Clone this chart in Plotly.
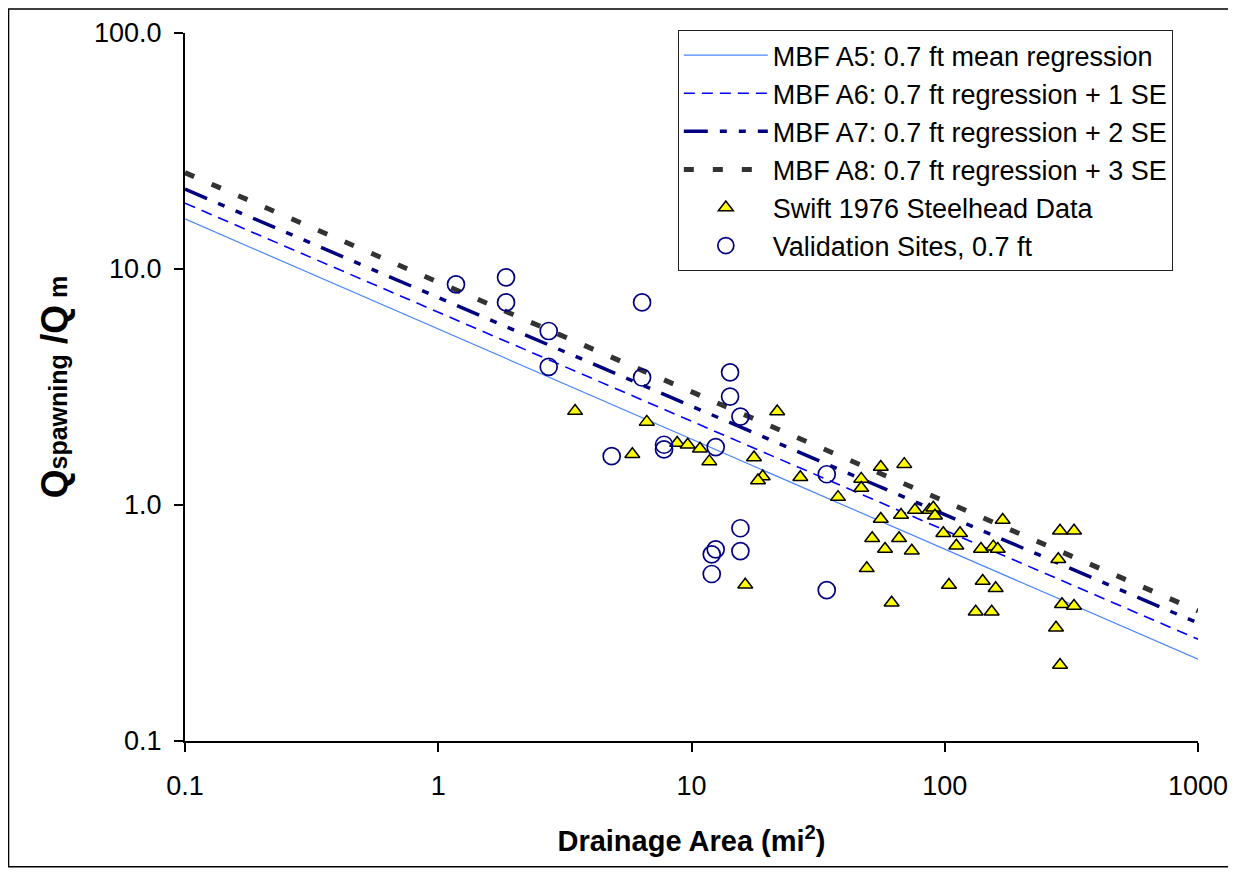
import plotly.graph_objects as go

# ---------------- data ----------------
line_x = [0.1, 1000]
a5_y = [16.3, 0.222]
a6_y = [19.0, 0.270]
a7_y = [21.8, 0.316]
a8_y = [25.6, 0.356]

swift_area = [3.47, 6.66, 5.84, 8.78, 9.66, 10.8, 11.76, 21.8, 17.65, 19.1,
              18.3, 26.9, 37.9, 16.3, 46.8, 46.8, 55.9, 69.2, 55.9, 67.2,
              76.3, 86.9, 90.1, 91.5, 51.7, 66.0, 58.1, 74.1, 49.2, 61.7,
              98.7, 114.9, 111.1, 103.9, 139.0, 155.5, 161.9, 169.3, 141.2, 158.9,
              132.5, 153.2, 285.2, 323.9, 280.8, 290.4, 323.9, 275.0, 285.2]
swift_q = [2.50, 2.25, 1.64, 1.83, 1.80, 1.73, 1.53, 2.49, 1.59, 1.32,
           1.27, 1.31, 1.08, 0.459, 1.29, 1.18, 1.45, 1.49, 0.872, 0.907,
           0.952, 0.952, 0.974, 0.901, 0.723, 0.723, 0.651, 0.640, 0.539, 0.385,
           0.759, 0.759, 0.672, 0.458, 0.651, 0.666, 0.651, 0.864, 0.476, 0.444,
           0.353, 0.353, 0.778, 0.778, 0.589, 0.380, 0.373, 0.302, 0.210]

val_area = [1.175, 1.852, 1.852, 2.73, 2.73, 6.38, 6.38, 14.2, 14.2, 15.6,
            4.84, 7.79, 7.79, 12.46, 34.2, 15.6, 12.46, 12.02, 15.6, 12.02, 34.2]
val_q = [8.61, 9.22, 7.22, 5.46, 3.85, 7.22, 3.47, 3.65, 2.88, 2.37,
         1.61, 1.80, 1.72, 1.76, 1.35, 0.797, 0.649, 0.618, 0.638, 0.510, 0.436]

x_tickvals = [0.1, 1, 10, 100, 1000]
x_ticktext = ["0.1", "1", "10", "100", "1000"]
y_tickvals = [0.1, 1, 10, 100]
y_ticktext = ["0.1", "1.0", "10.0", "100.0"]

names = ["MBF A5: 0.7 ft mean regression",
         "MBF A6: 0.7 ft regression + 1 SE",
         "MBF A7: 0.7 ft regression + 2 SE",
         "MBF A8: 0.7 ft regression + 3 SE",
         "Swift 1976 Steelhead Data",
         "Validation Sites, 0.7 ft"]

FONT = "Liberation Sans, Arial, sans-serif"

fig = go.Figure()

fig.add_trace(go.Scatter(x=line_x, y=a5_y, mode="lines", name=names[0],
                         line=dict(color="#4A86FF", width=1.2), legendrank=1))
fig.add_trace(go.Scatter(x=line_x, y=a6_y, mode="lines", name=names[1],
                         line=dict(color="#0000FF", width=1.6, dash="11px,7px"),
                         legendrank=2))
fig.add_trace(go.Scatter(x=line_x, y=a7_y, mode="lines", name=names[2],
                         line=dict(color="#000080", width=3.5,
                                   dash="24px,12px,7px,12px,7px,12px"),
                         legendrank=3))
fig.add_trace(go.Scatter(x=line_x, y=a8_y, mode="lines", name=names[3],
                         line=dict(color="#333333", width=5, dash="10px,19px"),
                         legendrank=4))
fig.add_trace(go.Scatter(x=swift_area, y=swift_q, mode="markers", name=names[4],
                         marker=dict(symbol="triangle-up", size=13, color="#FFFF00",
                                     line=dict(color="black", width=1.5)),
                         legendrank=5))
fig.add_trace(go.Scatter(x=val_area, y=val_q, mode="markers", name=names[5],
                         marker=dict(symbol="circle-open", size=17, color="#000080",
                                     line=dict(color="#000080", width=1.7)),
                         legendrank=6))

ytitle = ("<b>Q<span style='font-size:25px'>spawning</span> /Q"
          "<span style='font-size:25px'> m</span></b>")

fig.update_layout(
    width=1228, height=860,
    paper_bgcolor="white", plot_bgcolor="white",
    margin=dict(l=177, r=38, t=25, b=127, autoexpand=False),
    font=dict(family=FONT, size=27, color="black"),
    showlegend=True,
    legend=dict(x=0.4865, y=1.0042, xanchor="left", yanchor="top",
                bgcolor="white", bordercolor="#222222", borderwidth=1,
                font=dict(family=FONT, size=27, color="black"),
                itemwidth=84, tracegroupgap=0),
    xaxis=dict(type="log", range=[-1, 3], tickvals=x_tickvals, ticktext=x_ticktext,
               showgrid=False, zeroline=False, showline=True, linecolor="black",
               linewidth=2, ticks="outside", ticklen=9, tickwidth=1.5,
               tickcolor="black", ticklabelstandoff=11,
               tickfont=dict(family=FONT, size=27),
               title=dict(text="<b>Drainage Area (mi<sup>2</sup>)</b>",
                          font=dict(family=FONT, size=29), standoff=30)),
    yaxis=dict(type="log", range=[-1, 2], tickvals=y_tickvals, ticktext=y_ticktext,
               showgrid=False, zeroline=False, showline=True, linecolor="black",
               linewidth=2, ticks="outside", ticklen=9, tickwidth=1.5,
               tickcolor="black", ticklabelstandoff=7,
               tickfont=dict(family=FONT, size=27),
               title=dict(text=ytitle, font=dict(family=FONT, size=37), standoff=15)),
    shapes=[dict(type="rect", xref="paper", yref="paper",
                 x0=-0.1742, x1=1.0355, y0=-0.1775, y1=1.0339,
                 line=dict(color="black", width=1.5), fillcolor="rgba(0,0,0,0)",
                 layer="below")],
)

fig.write_html("out.html")
